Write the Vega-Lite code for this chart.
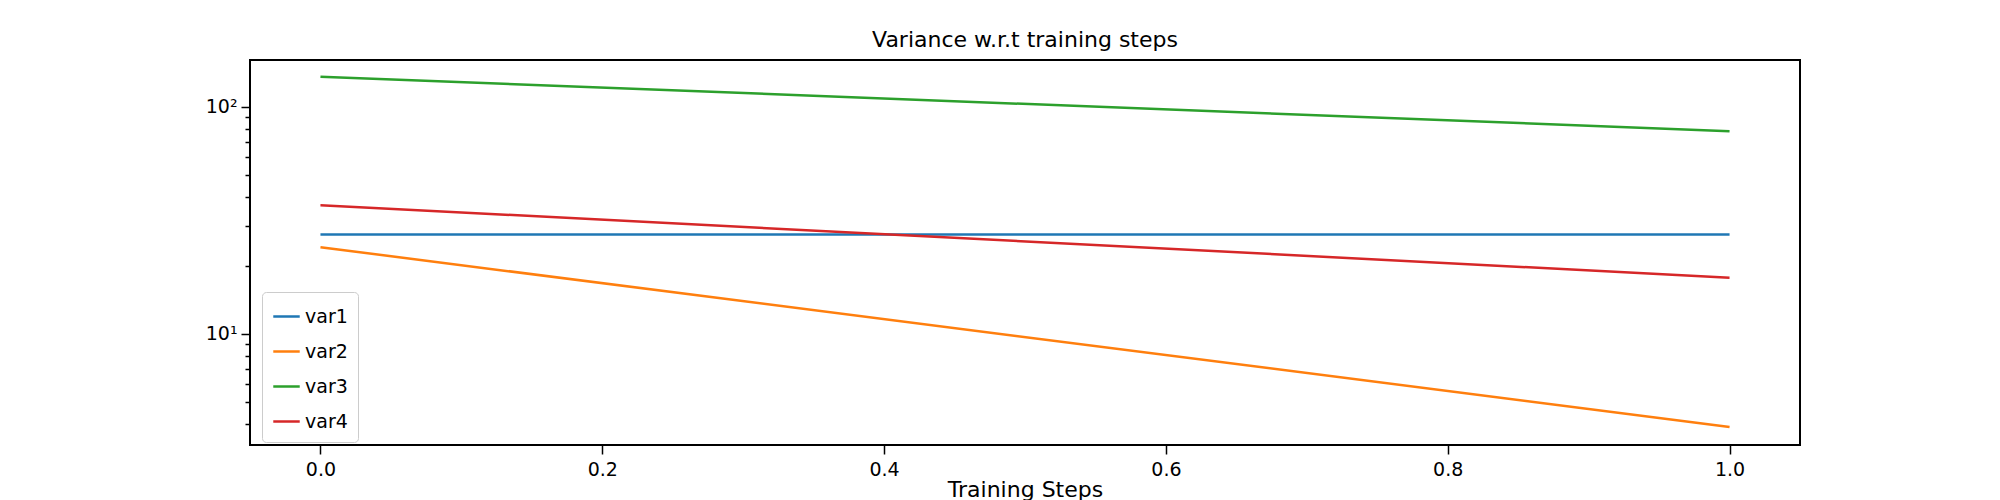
{
  "$schema": "https://vega.github.io/schema/vega-lite/v6.json",
  "width": 1550,
  "height": 385,
  "autosize": "none",
  "padding": {"left": 250, "top": 60, "right": 200, "bottom": 55},
  "background": "white",
  "title": {"text": "Variance w.r.t training steps", "font": "DejaVu Sans", "fontSize": 22, "fontWeight": "normal", "offset": 8, "color": "black"},
  "config": {
    "view": {"stroke": "black", "strokeWidth": 2},
    "axis": {"grid": false, "domain": false, "tickColor": "black", "tickWidth": 1.5, "labelFont": "DejaVu Sans", "labelFontSize": 19, "labelColor": "black", "titleFont": "DejaVu Sans", "titleFontSize": 22, "titleFontWeight": "normal", "titleColor": "black"}
  },
  "data": {"values": [
    {"step": 0, "v": 27.4, "series": "var1"},
    {"step": 1, "v": 27.4, "series": "var1"},
    {"step": 0, "v": 24.1, "series": "var2"},
    {"step": 1, "v": 3.89, "series": "var2"},
    {"step": 0, "v": 136, "series": "var3"},
    {"step": 1, "v": 78.2, "series": "var3"},
    {"step": 0, "v": 36.9, "series": "var4"},
    {"step": 1, "v": 17.7, "series": "var4"}
  ]},
  "mark": {"type": "line", "strokeWidth": 2.5, "clip": true},
  "encoding": {
    "x": {"field": "step", "type": "quantitative", "title": "Training Steps",
      "scale": {"domain": [-0.05, 1.05], "nice": false, "zero": false},
      "axis": {"values": [0, 0.2, 0.4, 0.6, 0.8, 1.0], "format": ".1f", "tickSize": 9, "labelPadding": 6, "titleY": 34, "titleBaseline": "top"}},
    "y": {"field": "v", "type": "quantitative", "title": null,
      "scale": {"type": "log", "domain": [3.24, 161], "nice": false},
      "axis": {"values": [4, 5, 6, 7, 8, 9, 10, 20, 30, 40, 50, 60, 70, 80, 90, 100],
        "labelExpr": "datum.value == 10 ? '10¹' : datum.value == 100 ? '10²' : ''",
        "tickSize": {"condition": {"test": "datum.value == 10 || datum.value == 100", "value": 9}, "value": 5},
        "labelPadding": 4}},
    "color": {"field": "series", "type": "nominal",
      "scale": {"domain": ["var1", "var2", "var3", "var4"], "range": ["#1f77b4", "#ff7f0e", "#2ca02c", "#d62728"]},
      "legend": {"title": null, "orient": "none", "legendX": 12, "legendY": 232, "symbolType": "stroke", "symbolSize": 700, "symbolStrokeWidth": 2.5,
        "labelFont": "DejaVu Sans", "labelFontSize": 19, "labelColor": "black", "rowPadding": 10,
        "fillColor": "white", "strokeColor": "#cccccc", "padding": 10, "cornerRadius": 4}}
  }
}
